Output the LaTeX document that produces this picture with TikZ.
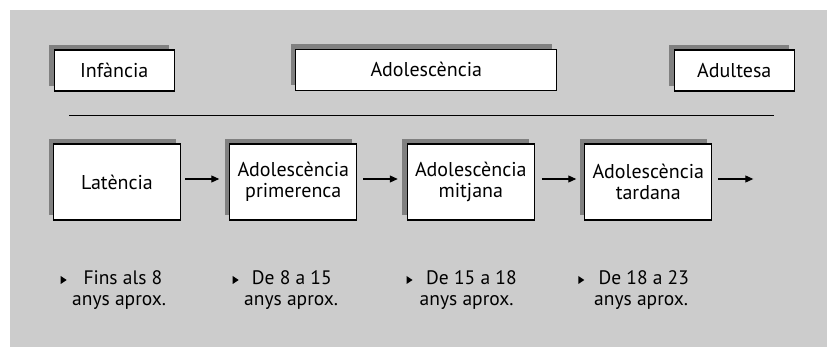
\documentclass[tikz,border=0pt]{standalone}
\usepackage{fontspec}
\setmainfont{PT Sans}
\usetikzlibrary{arrows.meta,shadows}
\definecolor{bgray}{RGB}{204,204,204}
\definecolor{shade}{RGB}{128,128,128}
\begin{document}
\begin{tikzpicture}[x=1pt,y=-1pt,
  box/.style={draw=black, line width=1.1pt, fill=white, inner sep=0pt, align=center,
     font=\fontsize{20}{20.5}\selectfont,
     general shadow={fill=shade, shadow xshift=-5pt, shadow yshift=5pt}},
  topbox/.style={box, minimum height=41pt},
  phase/.style={box, minimum width=127pt, minimum height=76pt},
  lbl/.style={inner sep=0pt, anchor=base west, font=\fontsize{19.5}{18}\selectfont},
  conn/.style={line width=1.1pt, -{Triangle[length=8pt,width=7pt]}},
  tri/.style={fill=black}]
\useasboundingbox (0,0) rectangle (827,347);
\fill[white] (0,0) rectangle (827,347);
\fill[bgray] (10,10) rectangle (827,347);

% top row
\node[topbox, minimum width=120pt] (inf) at (114.2,70.5) {Infància};
\node[topbox, minimum width=261pt] (ado) at (426.3,69.7) {Adolescència};
\node[topbox, minimum width=120pt] (adu) at (734.3,70.5) {Adultesa};

% separator
\coordinate (sepL) at (69,115.7);
\coordinate (sepR) at (774,115.7);
\draw[line width=1pt] (sepL) -- (sepR);

% phases
\node[phase] (p1) at (117,182) {Latència};
\node[phase] (p2) at (293.3,182) {Adolescència\\primerenca};
\node[phase] (p3) at (470.8,182) {Adolescència\\mitjana};
\node[phase] (p4) at (648.3,182) {Adolescència\\tardana};
\coordinate (end) at (753.3,179);

\draw[conn, shorten <=4pt, shorten >=10pt] ([yshift=3pt]p1.east) -- ([yshift=3pt]p2.west);
\draw[conn, shorten <=6pt, shorten >=9pt] ([yshift=3pt]p2.east) -- ([yshift=3pt]p3.west);
\draw[conn, shorten <=7pt, shorten >=8pt] ([yshift=3pt]p3.east) -- ([yshift=3pt]p4.west);
\draw[conn, shorten <=6pt] ([yshift=3pt]p4.east) -- (end);

% bullet texts
\node[lbl] (a1) at (83.3,285) {Fins als 8};
\node[lbl] (b1) at (72,305.5) {anys aprox.};
\node[lbl] (a2) at (251.7,285) {De 8 a 15};
\node[lbl] (b2) at (244,305.5) {anys aprox.};
\node[lbl] (a3) at (426,285) {De 15 a 18};
\node[lbl] (b3) at (419.5,305.5) {anys aprox.};
\node[lbl] (a4) at (598.3,285) {De 18 a 23};
\node[lbl] (b4) at (594,305.5) {anys aprox.};

% bullet triangles
\foreach \x in {60.7,232.7,406.5,578.3}{
  \fill[tri] (\x,276) -- (\x+6,280) -- (\x,284) -- cycle;
}
\end{tikzpicture}
\end{document}
